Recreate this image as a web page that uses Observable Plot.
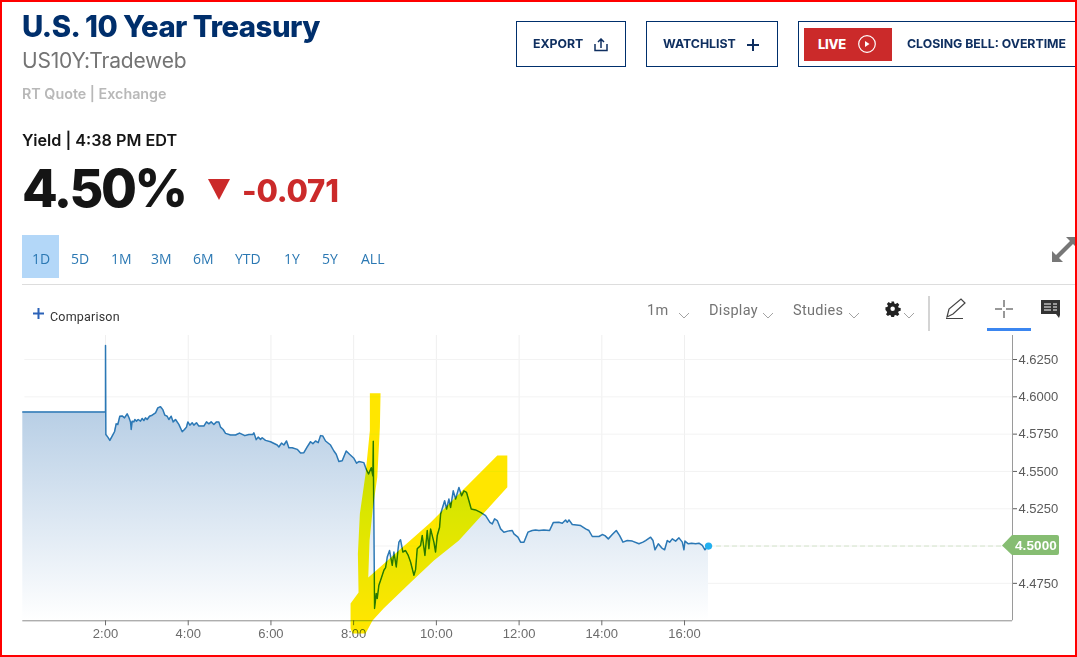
<!DOCTYPE html>
<html><head><meta charset="utf-8">
<script src="https://cdn.jsdelivr.net/npm/d3@7"></script>
<script src="https://cdn.jsdelivr.net/npm/@observablehq/plot@0.6"></script>
<style>
html,body{margin:0;padding:0;background:#fff}
#page{position:relative;width:1077px;height:657px;overflow:hidden;font-family:Inter,"Liberation Sans",sans-serif}
#page>*{position:absolute}
#chart{left:0;top:0}
.t{white-space:nowrap;line-height:1}
.btn{border:1px solid #002f6c;box-sizing:border-box;height:46px;top:21px;background:#fff}
.lbl{font-weight:700;font-size:12.3px;color:#0f2f60;letter-spacing:0}
.tab{font:14px "Open Sans","Liberation Sans",sans-serif;color:#2b78b3;top:249px}
.tool{font:14.5px Roboto,"Liberation Sans",sans-serif;color:#747474;top:302px;letter-spacing:.3px}
.frame{pointer-events:none;border:solid #f00;border-width:2px 2px 2px 2px;box-sizing:border-box;left:0;top:0;width:1077px;height:657px}
</style></head><body>
<div id="page">
<div id="chart"></div>
<div class="t" style="left:22px;top:12px;font-size:29.3px;font-weight:800;color:#002f6c;letter-spacing:-.5px">U.S. 10 Year Treasury</div>
<div class="t" style="left:22px;top:50px;font-size:21px;color:#747474;letter-spacing:-.2px">US10Y:Tradeweb</div>
<div class="t" style="left:22px;top:87px;font-size:14.3px;font-weight:600;color:#b8b8b8">RT Quote | Exchange</div>
<div class="t" style="left:22px;top:132px;font-size:16.2px;font-weight:600;color:#151515">Yield | 4:38 PM EDT</div>
<div class="t" style="left:22px;top:163px;font-size:52px;font-weight:800;color:#151515;letter-spacing:-2.4px">4.50%</div>
<svg style="left:207px;top:179px" width="24" height="22"><path d="M1 0H23L12 21Z" fill="#cb2a2a"/></svg>
<div class="t" style="left:242px;top:175px;font-size:31px;font-weight:800;color:#cb2a2a;letter-spacing:-.2px">-0.071</div>

<div class="btn" style="left:516px;width:110px"></div>
<div class="t lbl" style="left:533px;top:38px">EXPORT</div>
<svg style="left:594px;top:38px" width="14" height="14" fill="none" stroke="#0f2f60" stroke-width="1.5"><path d="M1 6V12.5H13V6M7 10V1M4 4L7 1L10 4"/></svg>
<div class="btn" style="left:646px;width:132px"></div>
<div class="t lbl" style="left:663px;top:38px">WATCHLIST</div>
<svg style="left:746px;top:38px" width="14" height="14" stroke="#0f2f60" stroke-width="2"><path d="M7 1V13M1 7H13"/></svg>
<div class="btn" style="left:798px;width:290px"></div>
<div style="left:804px;top:28px;width:88px;height:33px;background:#cb2a2a"></div>
<div class="t" style="left:818px;top:38px;font-size:13px;font-weight:800;color:#fff;letter-spacing:-.3px">LIVE</div>
<svg style="left:857px;top:34px" width="20" height="20" fill="none" stroke="#fff" stroke-width="1.2"><circle cx="10" cy="10" r="8.3"/><path d="M8 7L12.5 10L8 13Z" fill="#fff" stroke="none"/></svg>
<div class="t lbl" style="left:907px;top:38px">CLOSING BELL: OVERTIME</div>

<svg style="left:1050px;top:234px" width="27" height="30" fill="#777"><path d="M2 28V17L6 21L20 7L16 3H27V14L23 10L9 24L13 28Z"/></svg>

<div style="left:22px;top:235px;width:37px;height:43px;background:#b3d7f8"></div>
<div class="t tab" style="left:32px">1D</div><div class="t tab" style="left:71px">5D</div>
<div class="t tab" style="left:111px">1M</div><div class="t tab" style="left:151px">3M</div>
<div class="t tab" style="left:193px">6M</div><div class="t tab" style="left:235px">YTD</div>
<div class="t tab" style="left:284px">1Y</div><div class="t tab" style="left:322px">5Y</div>
<div class="t tab" style="left:361px">ALL</div>
<div style="left:22px;top:284px;width:1055px;height:1px;background:#ddd"></div>

<svg style="left:32px;top:307px" width="13" height="13" stroke="#2b62b8" stroke-width="2"><path d="M6.500 1V12M1 6.500H12"/></svg>
<div class="t" style="left:50px;top:309px;font:12.5px Roboto,'Liberation Sans',sans-serif;color:#333;letter-spacing:.2px">Comparison</div>
<div class="t tool" style="left:647px">1m</div>
<div class="t tool" style="left:709px">Display</div>
<div class="t tool" style="left:793px">Studies</div>
<svg style="left:678px;top:311px" width="240" height="10" fill="none" stroke="#999" stroke-width=".9"><path d="M1 2L6 7L11 2M85 2L90 7L95 2M171 2L176 7L181 2M226 2L231 7L236 2"/></svg>
<svg style="left:885px;top:301px" width="16" height="16" fill="#222"><path d="M6.500 0h3l.4 2.200 1.500.6 1.900-1.300 2.100 2.100-1.300 1.900.6 1.500 2.200.4v3l-2.200.4-.6 1.500 1.300 1.900-2.100 2.100-1.900-1.300-1.500.6-.4 2.200h-3l-.4-2.200-1.500-.6-1.900 1.300-2.100-2.100 1.300-1.900-.6-1.500L0 9.500v-3l2.200-.4.600-1.500L1.500 2.700 3.600.6l1.900 1.300 1.500-.6zM8 5.500a2.500 2.500 0 100 5 2.500 2.500 0 000-5z" transform="scale(.9) translate(.5 .5)"/></svg>
<div style="left:928px;top:296px;width:2px;height:35px;background:#d4d4d4"></div>
<svg style="left:945px;top:298px" width="24" height="22" fill="none" stroke="#444" stroke-width="1.200"><path d="M2 19L4 11L16 1L20 5L8 16L2 19ZM1 20.500H18"/></svg>
<svg style="left:995px;top:300px" width="18" height="18" stroke="#333" stroke-width="1"><path d="M9 0V7M9 11V18M0 9H7M11 9H18"/></svg>
<div style="left:987px;top:328px;width:44px;height:3px;background:#3b86f0"></div>
<svg style="left:1041px;top:300px" width="20" height="18" fill="#333"><path d="M0 0H19V15L18 18L15 14H0Z"/><path d="M3 4H10M3 7H10M3 10H10M12 4H16M12 7H16M12 10H16" stroke="#fff" stroke-width="1"/></svg>

<svg style="left:1002px;top:535px" width="58" height="21"><path d="M0 10.500L10 0H55Q57 0 57 2V18Q57 20 55 20H10Z" fill="#86bd72"/></svg>
<div class="t" style="left:1015px;top:538px;font:bold 13.500px 'Liberation Sans',sans-serif;color:#fff;letter-spacing:.1px">4.5000</div>
<div class="frame"></div>
</div>
<script>
const flatOvernight = [[0,4.5899],[2.0,4.5899],[2.0,4.6344]];
const morning = [[2.008,4.5748],[2.056,4.573],[2.105,4.5708],[2.161,4.5737],[2.218,4.5766],[2.258,4.5819],[2.298,4.5815],[2.346,4.587],[2.403,4.5872],[2.459,4.5859],[2.524,4.5886],[2.564,4.5863],[2.604,4.5832],[2.621,4.5781],[2.645,4.5837],[2.685,4.5832],[2.709,4.5848],[2.749,4.5837],[2.79,4.5848],[2.846,4.5837],[2.887,4.5855],[2.927,4.5841],[2.967,4.5859],[3.007,4.5848],[3.064,4.587],[3.128,4.5877],[3.209,4.5892],[3.265,4.5926],[3.33,4.5934],[3.386,4.5914],[3.435,4.5877],[3.491,4.587],[3.531,4.5848],[3.588,4.587],[3.636,4.5832],[3.693,4.5848],[3.773,4.5815],[3.854,4.5766],[3.91,4.5781],[3.958,4.5797],[3.991,4.5832],[4.039,4.581],[4.096,4.5826],[4.136,4.581],[4.2,4.5826],[4.257,4.5804],[4.378,4.5804],[4.442,4.5832],[4.499,4.5819],[4.555,4.5832],[4.62,4.5815],[4.684,4.5832],[4.74,4.5832],[4.781,4.5797],[4.845,4.5781]];
const preOpen = [[4.902,4.5755],[5.023,4.5744],[5.144,4.5744],[5.241,4.5757],[5.37,4.574],[5.466,4.5748],[5.563,4.5748],[5.587,4.5759],[5.644,4.5713],[5.692,4.573],[5.748,4.5715],[5.789,4.5726],[5.869,4.5708],[5.99,4.5699],[6.151,4.5677],[6.192,4.5664],[6.256,4.569],[6.313,4.5677],[6.377,4.5704],[6.433,4.5659],[6.514,4.5659],[6.635,4.5648],[6.716,4.5624],[6.796,4.5626],[6.877,4.5664],[6.957,4.5699],[7.014,4.5686],[7.078,4.5704],[7.143,4.5693],[7.199,4.574],[7.255,4.5737],[7.32,4.5704],[7.441,4.5677],[7.522,4.5637],[7.578,4.5615],[7.642,4.5566],[7.723,4.5571],[7.82,4.5637],[7.9,4.5615],[8.005,4.5588],[8.07,4.5555],[8.126,4.5566],[8.247,4.5559],[8.303,4.5515],[8.36,4.5483],[8.425,4.5525],[8.465,4.547],[8.474,4.5703]];
const recovery = [[8.505,4.4582],[8.546,4.4682],[8.57,4.4649],[8.61,4.4738],[8.651,4.4771],[8.691,4.4804],[8.731,4.4838],[8.772,4.4855],[8.812,4.4926],[8.868,4.497],[8.933,4.4871],[8.973,4.496],[9.03,4.486],[9.07,4.497],[9.094,4.5026],[9.134,4.5042],[9.19,4.496],[9.255,4.497],[9.32,4.4937],[9.376,4.4893],[9.457,4.4804],[9.497,4.4842],[9.537,4.4982],[9.618,4.5004],[9.658,4.5071],[9.723,4.4937],[9.779,4.5104],[9.819,4.4982],[9.86,4.5115],[9.94,4.5026],[9.98,4.496],[10.021,4.5071],[10.077,4.5126],[10.102,4.5215],[10.2,4.5304],[10.247,4.5248],[10.303,4.5315],[10.344,4.5259],[10.408,4.537],[10.465,4.5315],[10.545,4.5393],[10.61,4.5337],[10.666,4.537],[10.73,4.5359],[10.787,4.5304],[10.843,4.5248],[10.948,4.5242],[11.069,4.5226],[11.19,4.5204],[11.295,4.5159],[11.351,4.5148],[11.408,4.5182],[11.472,4.5171],[11.553,4.5115],[11.633,4.5093],[11.73,4.51],[11.835,4.5104],[11.875,4.5082],[11.972,4.506],[12.036,4.5026],[12.117,4.5026],[12.214,4.5093],[12.318,4.5104],[12.399,4.5108],[12.48,4.5104],[12.6,4.5108],[12.737,4.5104],[12.826,4.5157],[12.963,4.5159],[13.044,4.5153],[13.124,4.5175]];
const afternoon = [[13.165,4.5159],[13.206,4.5175],[13.286,4.5144],[13.488,4.5137],[13.609,4.5115],[13.689,4.5104],[13.77,4.5064],[13.931,4.5064],[14.012,4.5077],[14.076,4.507],[14.157,4.5048],[14.253,4.5077],[14.35,4.5104],[14.431,4.507],[14.511,4.5026],[14.616,4.5037],[14.737,4.5033],[14.898,4.5015],[14.995,4.5026],[15.059,4.5037],[15.18,4.5059],[15.237,4.5037],[15.285,4.4975],[15.366,4.5015],[15.446,4.4988],[15.519,4.4975],[15.583,4.5037],[15.64,4.5026],[15.704,4.5048],[15.785,4.5033],[15.865,4.5055],[15.946,4.5026],[15.986,4.4975],[16.01,4.5033],[16.091,4.5015],[16.172,4.5019],[16.268,4.5015],[16.349,4.5019],[16.43,4.5004],[16.494,4.4975],[16.58,4.5]];
const highlight = [[8.392,4.6024],[8.65,4.6024],[8.634,4.5796],[8.571,4.5461],[8.457,4.5238],[8.384,4.5037],[8.353,4.4789],[9.86,4.5158],[11.473,4.5607],[11.715,4.5607],[11.715,4.5394],[10.544,4.5037],[9.94,4.4903],[9.376,4.4755],[8.723,4.4581],[8.457,4.4501],[8.288,4.4414],[7.973,4.4414],[7.925,4.4447],[7.925,4.4615],[8.118,4.4688],[8.102,4.4948],[8.15,4.5216],[8.288,4.5484],[8.392,4.5774]];
const xTickHours = [2,4,6,8,10,12,14,16];
const yTickValues = [4.475,4.5,4.525,4.55,4.575,4.6,4.625];
const lastPrice = 4.5, lastHour = 16.58, baseYield = 4.4499, axisEndHour = 23.93;

const series = [...flatOvernight, ...morning, ...preOpen, ...recovery, ...afternoon].map(([h,y]) => ({h,y}));
const defs = () => {
  const d = d3.create("svg:defs");
  const g = d.append("linearGradient").attr("id","areaFill").attr("gradientUnits","objectBoundingBox").attr("x1",0).attr("x2",0).attr("y1",0).attr("y2",1);
  g.append("stop").attr("offset","0.2").attr("stop-color","#b4cce4");
  g.append("stop").attr("offset","1").attr("stop-color","#ffffff");
  return d.node();
};
const axisFont = {fontFamily:'"Liberation Sans",Arial,sans-serif'};
const plot = Plot.plot({
  width:1077, height:657,
  marginLeft:22.3, marginRight:65, marginTop:335, marginBottom:36.7,
  style:{background:"transparent",...axisFont},
  x:{domain:[0,axisEndHour],axis:null},
  y:{domain:[baseYield,4.6411],axis:null},
  marks:[
    defs,
    Plot.ruleX(xTickHours,{stroke:"#efefef",strokeWidth:1}),
    Plot.ruleY(yTickValues,{x1:0.05,x2:axisEndHour,stroke:"#f3f3f3",strokeWidth:1}),
    Plot.areaY(series,{x:"h",y1:baseYield,y2:"y",fill:"url(#areaFill)"}),
    Plot.line(series,{x:"h",y:"y",stroke:"#2b78b5",strokeWidth:1.5,curve:"linear"}),
    Plot.ruleY([lastPrice],{x1:lastHour,x2:axisEndHour,stroke:"#d4e4ca",strokeWidth:1,strokeDasharray:"5 3"}),
    Plot.dot([[lastHour,lastPrice]],{x:d=>d[0],y:d=>d[1],r:3.6,fill:"#22b0f0",stroke:"none"}),
    Plot.ruleY([baseYield],{x1:0,x2:axisEndHour,stroke:"#8c8c8c"}),
    Plot.ruleX([axisEndHour],{stroke:"#9a9a9a"}),
    Plot.axisX({ticks:xTickHours,tickFormat:h=>`${h}:00`,tickSize:5,tickPadding:3,fontSize:13,color:"#6c6c6c",label:null,anchor:"bottom"}),
    Plot.axisY({ticks:yTickValues.filter(v=>v!==lastPrice),tickFormat:d3.format(".4f"),anchor:"right",tickSize:4,tickPadding:2,fontSize:13,color:"#5a5a5a",label:null}),
    Plot.line(highlight,{x:d=>d[0],y:d=>d[1],fill:"#ffe600",stroke:"none",mixBlendMode:"darken"})
  ]
});
document.getElementById("chart").appendChild(plot);
</script>
</body></html>
